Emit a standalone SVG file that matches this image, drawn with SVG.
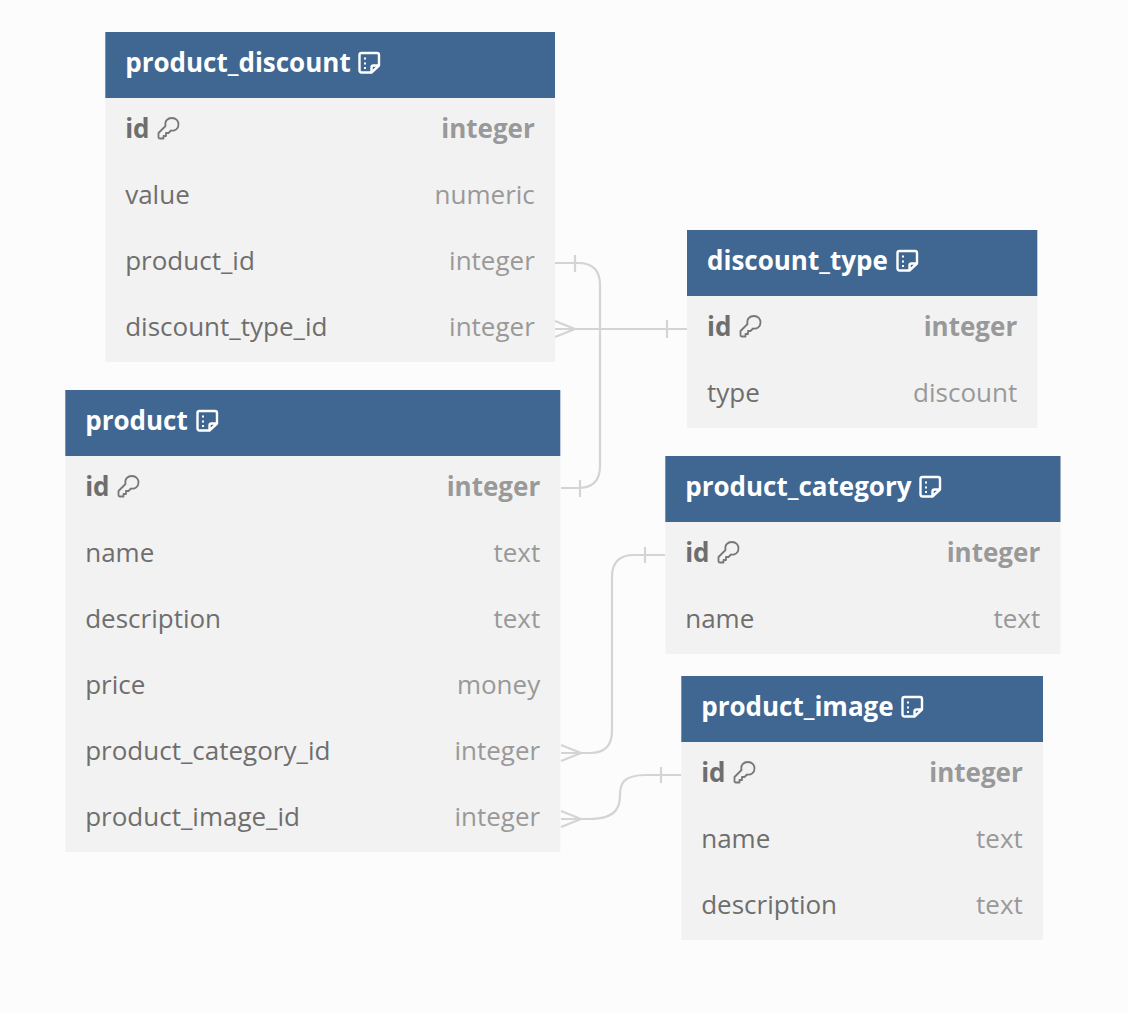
<svg xmlns="http://www.w3.org/2000/svg" width="1128" height="1014" viewBox="0 0 1128 1014">
<style>
text{font-family:"Open Sans","Noto Sans","Liberation Sans",sans-serif;font-size:26px}
.body{fill:#f2f2f2}
.head{fill:#406692}
.title{fill:#fff;font-weight:700}
.name{fill:#6e6e6e}
.type{fill:#999;text-anchor:end}
.b{font-weight:700}
.conn{fill:none;stroke:#d4d4d4;stroke-width:2.2}
.ic{fill:none;stroke:#fff;stroke-width:2.4;stroke-linejoin:round}
.ik{fill:none;stroke:#777;stroke-width:1.800;stroke-linejoin:round}
</style>
<defs>
<g id="note"><path class="ic" d="M2.500 -9H18Q20 -9 20 -7V3.500L12.500 10.500H2.500Q0.500 10.500 0.500 8.500V-7Q0.500 -9 2.500 -9ZM20 3.500H14.500Q12.500 3.500 12.500 5.500V10.500"/><path d="M6 -4.500v2M6 0.500v2M6 5v2" stroke="#fff" stroke-width="2" fill="none"/></g>
<g id="key"><path class="ik" d="M0.500 8V4L7.500 -3C6.500 -8 9.500 -11 14 -11C18 -11 20.500 -8 20.500 -4.500C20.500 -0.500 17 2.500 13 1.500L10.500 4H8V7H5.500V9.500H2Q0.500 9.500 0.500 8Z"/></g>
</defs>
<rect width="1128" height="1014" fill="#fcfcfc"/>
<g id="connectors">
<path class="conn" d="M555 263H578Q600 263 600 285V466Q600 488 578 488H561M575 255V272M580 480V497"/>
<path class="conn" d="M555 329H687M555 321L575 329L555 337M667 320V338"/>
<path class="conn" d="M561 753H590Q612 753 612 731V577Q612 555 634 555H665M645 547V563"/>
<path class="conn" d="M561 819H590C618 819 620 805 620 795C620 785 622 775 646 775H681M661 767V783"/>
<path class="conn" d="M561 745L581 753L561 761M561 811L581 819L561 827"/>
</g>
<g id="product_discount">
<rect class="body" x="105.300" y="32" width="449.700" height="330"/><rect class="head" x="105.300" y="32" width="449.700" height="66"/>
<text class="title" x="125.200" y="72">product_discount</text><use href="#note" x="359" y="62"/>
<text class="name b" x="125.200" y="138">id</text><use href="#key" x="158" y="129"/><text class="type b" x="534.800" y="138">integer</text>
<text class="name" x="125.200" y="204">value</text><text class="type" x="534.800" y="204">numeric</text>
<text class="name" x="125.200" y="270">product_id</text><text class="type" x="534.800" y="270">integer</text>
<text class="name" x="125.200" y="336">discount_type_id</text><text class="type" x="534.800" y="336">integer</text>
</g>
<g id="discount_type">
<rect class="body" x="687" y="230" width="350.300" height="198"/><rect class="head" x="687" y="230" width="350.300" height="66"/>
<text class="title" x="707" y="270">discount_type</text><use href="#note" x="897" y="260"/>
<text class="name b" x="707" y="336">id</text><use href="#key" x="740" y="327"/><text class="type b" x="1017.200" y="336">integer</text>
<text class="name" x="707" y="402">type</text><text class="type" x="1017.200" y="402">discount</text>
</g>
<g id="product">
<rect class="body" x="65.300" y="390" width="495" height="462"/><rect class="head" x="65.300" y="390" width="495" height="66"/>
<text class="title" x="85.200" y="430">product</text><use href="#note" x="197" y="420"/>
<text class="name b" x="85.200" y="496">id</text><use href="#key" x="118" y="487"/><text class="type b" x="540.200" y="496">integer</text>
<text class="name" x="85.200" y="562">name</text><text class="type" x="540.200" y="562">text</text>
<text class="name" x="85.200" y="628">description</text><text class="type" x="540.200" y="628">text</text>
<text class="name" x="85.200" y="694">price</text><text class="type" x="540.200" y="694">money</text>
<text class="name" x="85.200" y="760">product_category_id</text><text class="type" x="540.200" y="760">integer</text>
<text class="name" x="85.200" y="826">product_image_id</text><text class="type" x="540.200" y="826">integer</text>
</g>
<g id="product_category">
<rect class="body" x="665.300" y="456" width="395.200" height="198"/><rect class="head" x="665.300" y="456" width="395.200" height="66"/>
<text class="title" x="685.200" y="496">product_category</text><use href="#note" x="920" y="486"/>
<text class="name b" x="685.200" y="562">id</text><use href="#key" x="718" y="553"/><text class="type b" x="1040.200" y="562">integer</text>
<text class="name" x="685.200" y="628">name</text><text class="type" x="1040.200" y="628">text</text>
</g>
<g id="product_image">
<rect class="body" x="681.300" y="676" width="361.700" height="264"/><rect class="head" x="681.300" y="676" width="361.700" height="66"/>
<text class="title" x="701.200" y="716">product_image</text><use href="#note" x="902" y="706"/>
<text class="name b" x="701.200" y="782">id</text><use href="#key" x="734" y="773"/><text class="type b" x="1022.800" y="782">integer</text>
<text class="name" x="701.200" y="848">name</text><text class="type" x="1022.800" y="848">text</text>
<text class="name" x="701.200" y="914">description</text><text class="type" x="1022.800" y="914">text</text>
</g>
</svg>
